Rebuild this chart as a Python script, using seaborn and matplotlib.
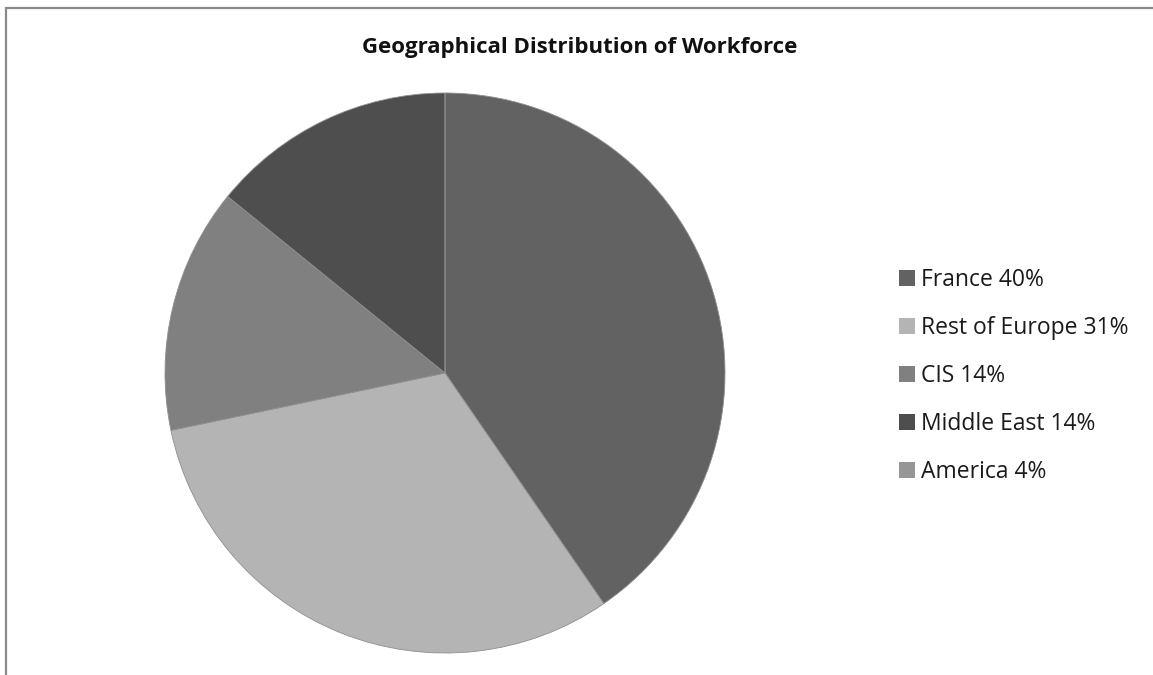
import matplotlib
matplotlib.use("Agg")
import matplotlib.pyplot as plt
from matplotlib.patches import Rectangle, Patch
import seaborn as sns

categories = ["France 40%", "Rest of Europe 31%", "CIS 14%", "Middle East 14%", "America 4%"]
shares = [40, 31, 14, 14, 0]
colors = ["#626262", "#b4b4b4", "#808080", "#4e4e4e", "#969696"]
title = "Geographical Distribution of Workforce"

sns.set_theme(style="white")
plt.rcParams["font.family"] = ["Open Sans", "DejaVu Sans"]

W, H = 1153, 675
fig = plt.figure(figsize=(W / 100, H / 100), dpi=100)
fig.patch.set_facecolor("white")

cx, cy, r = 445, 373, 280
ax = fig.add_axes([(cx - r) / W, (H - cy - r) / H, 2 * r / W, 2 * r / H])
wedges, _ = ax.pie(shares, colors=colors, startangle=90, counterclock=False,
                   wedgeprops=dict(edgecolor="#8f8f8f", linewidth=0.6))
ax.set_xlim(-1, 1)
ax.set_ylim(-1, 1)
ax.set_aspect("equal")
ax.axis("off")

fig.text(580 / W, 1 - 47 / H, title, ha="center", va="center",
         fontsize=16, fontweight="bold", color="#111111")

handles = [Patch(facecolor=c, edgecolor="none") for c in colors]
leg = fig.legend(handles, categories, loc="upper left",
                 bbox_to_anchor=(899 / W, 1 - 268 / H), frameon=False,
                 handlelength=0.68, handleheight=0.68, handletextpad=0.3,
                 labelspacing=1.05, prop=dict(family=["Open Sans", "DejaVu Sans"], size=16.5),
                 borderaxespad=0, borderpad=0)
for t in leg.get_texts():
    t.set_color("#1a1a1a")

fig.patches.append(Rectangle((6 / W, -0.1), 1.2, (H - 8) / H + 0.1,
                             transform=fig.transFigure, fill=False,
                             edgecolor="#8a8a8a", linewidth=1.6))

fig.savefig("out.png", dpi=100, facecolor="white")
